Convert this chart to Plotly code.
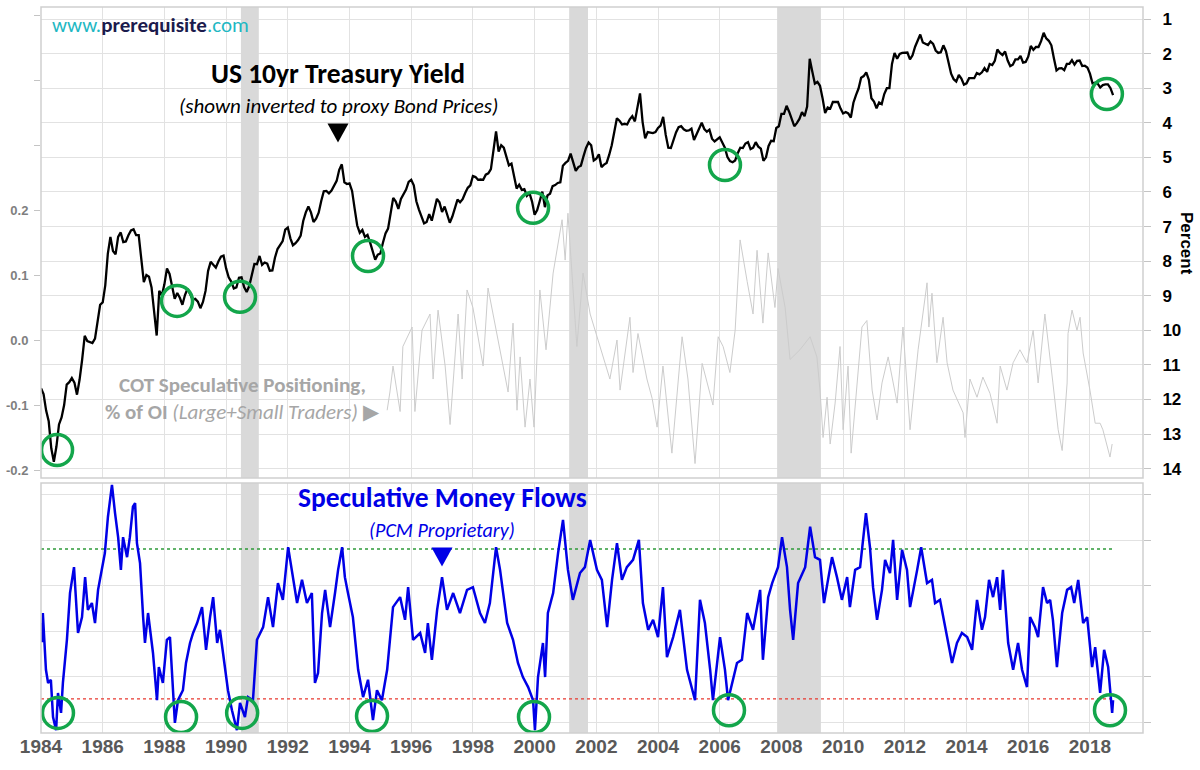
import plotly.graph_objects as go

# ---------------- DATA ----------------
# US 10yr Treasury yield, monthly, starting Jan 1984 (percent)
ust10y_start = 1984
ust10y = [
    11.67, 11.84, 12.32, 12.63, 13.41, 13.80, 13.36, 12.72, 12.52, 12.16, 11.57, 11.50,  # 1984
    11.38, 11.51, 11.86, 11.43, 10.85, 10.16, 10.31, 10.33, 10.37, 10.24, 9.78, 9.26,    # 1985
    9.19, 8.70, 7.78, 7.30, 7.71, 7.80, 7.30, 7.17, 7.45, 7.43, 7.25, 7.11,              # 1986
    7.08, 7.25, 7.25, 8.02, 8.61, 8.40, 8.45, 8.76, 9.42, 10.15, 8.86, 8.99,             # 1987
    8.67, 8.21, 8.37, 8.72, 9.09, 8.92, 9.06, 9.26, 8.98, 8.80, 8.96, 9.11,              # 1988
    9.09, 9.17, 9.36, 9.18, 8.86, 8.28, 8.02, 8.11, 8.19, 8.01, 7.87, 7.84,              # 1989
    8.21, 8.47, 8.59, 8.79, 8.76, 8.48, 8.47, 8.75, 8.89, 8.72, 8.39, 8.08,              # 1990
    8.09, 7.85, 8.11, 8.04, 8.07, 8.28, 8.27, 7.90, 7.65, 7.53, 7.42, 7.09,              # 1991
    7.03, 7.34, 7.54, 7.48, 7.39, 7.26, 6.84, 6.59, 6.42, 6.59, 6.87, 6.77,              # 1992
    6.60, 6.26, 5.98, 5.97, 6.04, 5.96, 5.81, 5.68, 5.36, 5.20, 5.72, 5.77,              # 1993
    5.75, 5.97, 6.48, 6.97, 7.18, 7.10, 7.30, 7.24, 7.46, 7.74, 7.96, 7.81,              # 1994
    7.78, 7.47, 7.20, 7.06, 6.63, 6.17, 6.28, 6.49, 6.20, 6.04, 5.93, 5.71,              # 1995
    5.65, 5.81, 6.27, 6.51, 6.74, 6.91, 6.87, 6.64, 6.83, 6.53, 6.20, 6.30,              # 1996
    6.58, 6.42, 6.69, 6.89, 6.71, 6.49, 6.22, 6.30, 6.21, 6.03, 5.88, 5.81,              # 1997
    5.54, 5.57, 5.65, 5.64, 5.65, 5.50, 5.46, 5.34, 4.81, 4.25, 4.83, 4.65,              # 1998
    4.72, 5.00, 5.23, 5.18, 5.54, 5.90, 5.79, 5.94, 5.92, 6.11, 6.03, 6.28,              # 1999
    6.66, 6.52, 6.26, 5.99, 6.44, 6.10, 6.05, 5.83, 5.80, 5.74, 5.72, 5.24,              # 2000
    5.16, 5.10, 4.89, 5.14, 5.39, 5.28, 5.24, 4.97, 4.73, 4.57, 4.65, 5.09,              # 2001
    5.04, 4.91, 5.28, 5.21, 5.16, 4.93, 4.65, 4.26, 3.87, 3.94, 4.05, 4.03,              # 2002
    4.05, 3.90, 3.81, 3.96, 3.57, 3.15, 3.98, 4.45, 4.27, 4.29, 4.30, 4.27,              # 2003
    4.15, 4.08, 3.83, 4.35, 4.72, 4.73, 4.50, 4.28, 4.13, 4.10, 4.19, 4.23,              # 2004
    4.22, 4.17, 4.50, 4.34, 4.14, 4.00, 4.18, 4.26, 4.20, 4.46, 4.54, 4.47,              # 2005
    4.42, 4.57, 4.72, 4.99, 5.11, 5.14, 5.09, 4.88, 4.72, 4.73, 4.60, 4.56,              # 2006
    4.76, 4.72, 4.56, 4.69, 4.75, 5.10, 5.00, 4.67, 4.52, 4.53, 4.15, 4.10,              # 2007
    3.74, 3.74, 3.51, 3.68, 3.88, 4.10, 4.01, 3.89, 3.69, 3.81, 3.53, 2.15,              # 2008
    2.52, 2.87, 2.82, 2.93, 3.29, 3.72, 3.56, 3.59, 3.40, 3.39, 3.40, 3.59,              # 2009
    3.73, 3.69, 3.73, 3.85, 3.42, 3.20, 3.01, 2.70, 2.65, 2.54, 2.76, 3.29,              # 2010
    3.39, 3.58, 3.41, 3.46, 3.17, 3.00, 3.00, 2.30, 1.98, 2.15, 2.01, 1.98,              # 2011
    1.97, 1.97, 2.17, 2.05, 1.80, 1.62, 1.45, 1.68, 1.72, 1.75, 1.65, 1.72,              # 2012
    1.91, 1.98, 1.96, 1.76, 1.93, 2.30, 2.58, 2.74, 2.81, 2.62, 2.72, 2.90,              # 2013
    2.86, 2.71, 2.72, 2.71, 2.56, 2.60, 2.54, 2.42, 2.53, 2.30, 2.33, 2.21,              # 2014
    1.88, 1.98, 2.04, 1.94, 2.20, 2.36, 2.32, 2.17, 2.17, 2.07, 2.26, 2.24,              # 2015
    2.09, 1.78, 1.89, 1.81, 1.81, 1.64, 1.40, 1.56, 1.63, 1.76, 2.14, 2.49,              # 2016
    2.43, 2.42, 2.48, 2.30, 2.30, 2.19, 2.32, 2.21, 2.20, 2.36, 2.35, 2.40,              # 2017
    2.58, 2.86, 2.84, 2.87, 2.98, 2.91, 2.89, 2.89, 3.00, 3.20,                          # 2018
]

# COT speculative positioning, % of open interest (left axis)
cot_years = [
    1995.22, 1995.31, 1995.41, 1995.64, 1995.73, 1996.03, 1996.12, 1996.35, 1996.61, 1996.71,
    1996.87, 1997.10, 1997.26, 1997.52, 1997.65, 1997.81, 1998.00, 1998.33, 1998.49, 1998.65,
    1998.98, 1999.14, 1999.30, 1999.43, 1999.53, 1999.69, 1999.85, 1999.98, 2000.17, 2000.37,
    2000.60, 2000.89, 2000.99, 2001.08, 2001.37, 2001.57, 2001.80, 2002.12, 2002.44, 2002.67,
    2002.77, 2003.09, 2003.19, 2003.35, 2003.64, 2003.81, 2003.97, 2004.16, 2004.45, 2004.78,
    2004.97, 2005.20, 2005.43, 2005.78, 2005.95, 2006.11, 2006.33, 2006.50, 2006.66, 2006.89,
    2007.08, 2007.21, 2007.40, 2007.57, 2007.79, 2007.89, 2008.12, 2008.28, 2008.60, 2008.93,
    2009.15, 2009.25, 2009.35, 2009.48, 2009.58, 2009.74, 2009.90, 2010.00, 2010.16, 2010.26,
    2010.39, 2010.61, 2010.77, 2010.94, 2011.10, 2011.26, 2011.46, 2011.75, 2011.94, 2012.17,
    2012.43, 2012.72, 2012.78, 2012.88, 2013.04, 2013.24, 2013.37, 2013.56, 2013.89, 2013.95,
    2014.11, 2014.34, 2014.53, 2014.76, 2014.99, 2015.09, 2015.31, 2015.51, 2015.73, 2015.96,
    2016.16, 2016.32, 2016.54, 2016.64, 2016.80, 2016.97, 2017.10, 2017.26, 2017.29, 2017.42,
    2017.58, 2017.68, 2017.78, 2018.00, 2018.17, 2018.33, 2018.42, 2018.65, 2018.72,
]
cot_values = [
    -0.108, -0.080, -0.040, -0.110, -0.010, 0.020, -0.110, 0.015, 0.040, -0.060,
    0.046, -0.040, -0.130, 0.040, -0.060, 0.077, 0.050, -0.040, 0.080, 0.040,
    -0.040, -0.080, 0.026, -0.108, -0.026, -0.134, -0.060, -0.134, 0.077, -0.015,
    0.103, 0.185, 0.123, 0.195, -0.010, 0.103, 0.040, -0.010, -0.060, 0.000,
    -0.077, 0.035, -0.050, 0.010, -0.060, -0.090, -0.134, -0.040, -0.174, 0.005,
    -0.060, -0.190, -0.036, -0.100, 0.005, -0.010, -0.050, 0.015, 0.154, 0.090,
    0.040, 0.138, 0.026, 0.134, 0.050, 0.110, 0.050, -0.030, -0.015, 0.005,
    -0.026, -0.077, -0.150, -0.088, -0.160, -0.097, -0.010, -0.138, -0.040, -0.174,
    -0.097, 0.020, 0.030, -0.077, -0.123, -0.066, -0.026, -0.097, 0.020, -0.138,
    -0.015, 0.088, 0.020, 0.072, -0.035, 0.035, -0.035, -0.077, -0.112, -0.150,
    -0.060, -0.088, -0.057, -0.082, -0.128, -0.040, -0.077, -0.035, -0.015, -0.035,
    0.015, -0.066, 0.040, -0.005, -0.066, -0.138, -0.170, -0.066, 0.010, 0.046,
    0.015, 0.035, -0.020, -0.077, -0.128, -0.128, -0.138, -0.180, -0.160,
]

# Speculative Money Flows (PCM proprietary index, arbitrary units)
flow_years = [
    1984.00, 1984.03, 1984.06, 1984.16, 1984.23, 1984.32, 1984.39, 1984.49, 1984.55, 1984.65,
    1984.71, 1984.84, 1984.94, 1985.07, 1985.20, 1985.33, 1985.43, 1985.52, 1985.65, 1985.75,
    1985.85, 1985.98, 1986.07, 1986.17, 1986.30, 1986.40, 1986.50, 1986.59, 1986.66, 1986.79,
    1986.88, 1986.98, 1987.05, 1987.11, 1987.21, 1987.31, 1987.37, 1987.47, 1987.63, 1987.76,
    1987.82, 1987.95, 1988.08, 1988.18, 1988.28, 1988.34, 1988.44, 1988.60, 1988.70, 1988.83,
    1988.93, 1989.06, 1989.22, 1989.35, 1989.48, 1989.58, 1989.71, 1989.80, 1989.90, 1990.06,
    1990.19, 1990.35, 1990.45, 1990.61, 1990.71, 1990.87, 1991.00, 1991.10, 1991.20, 1991.36,
    1991.52, 1991.68, 1991.84, 1992.01, 1992.17, 1992.30, 1992.46, 1992.62, 1992.78, 1992.88,
    1992.98, 1993.11, 1993.21, 1993.37, 1993.53, 1993.63, 1993.76, 1993.85, 1993.95, 1994.11,
    1994.28, 1994.44, 1994.60, 1994.76, 1994.89, 1995.05, 1995.22, 1995.31, 1995.41, 1995.64,
    1995.80, 1995.90, 1996.06, 1996.29, 1996.45, 1996.54, 1996.67, 1996.84, 1997.00, 1997.16,
    1997.36, 1997.58, 1997.81, 1998.00, 1998.23, 1998.39, 1998.55, 1998.75, 1998.88, 1999.11,
    1999.30, 1999.46, 1999.62, 1999.79, 1999.95, 2000.01, 2000.11, 2000.27, 2000.34, 2000.43,
    2000.60, 2000.76, 2000.92, 2001.08, 2001.24, 2001.47, 2001.63, 2001.80, 2002.02, 2002.18,
    2002.35, 2002.51, 2002.67, 2002.83, 2002.99, 2003.19, 2003.38, 2003.51, 2003.68, 2003.84,
    2004.00, 2004.16, 2004.29, 2004.49, 2004.71, 2004.94, 2005.10, 2005.20, 2005.36, 2005.52,
    2005.69, 2005.78, 2006.01, 2006.17, 2006.27, 2006.40, 2006.56, 2006.72, 2006.89, 2007.08,
    2007.31, 2007.40, 2007.57, 2007.70, 2007.89, 2008.02, 2008.18, 2008.28, 2008.38, 2008.54,
    2008.77, 2008.93, 2009.09, 2009.25, 2009.38, 2009.51, 2009.64, 2009.80, 2009.96, 2010.13,
    2010.22, 2010.39, 2010.55, 2010.74, 2010.87, 2010.97, 2011.10, 2011.26, 2011.36, 2011.52,
    2011.62, 2011.75, 2011.91, 2012.07, 2012.17, 2012.40, 2012.53, 2012.72, 2012.88, 2012.98,
    2013.14, 2013.37, 2013.53, 2013.69, 2013.85, 2014.02, 2014.18, 2014.34, 2014.50, 2014.60,
    2014.73, 2014.86, 2014.99, 2015.09, 2015.18, 2015.35, 2015.51, 2015.67, 2015.80, 2015.96,
    2016.06, 2016.22, 2016.32, 2016.48, 2016.61, 2016.71, 2016.80, 2016.93, 2017.10, 2017.26,
    2017.39, 2017.49, 2017.62, 2017.78, 2017.91, 2018.07, 2018.17, 2018.33, 2018.46, 2018.59,
    2018.72, 2018.75,
]
flow_values = [
    2.18, 1.76, 2.40, 1.15, 0.86, 0.93, 0.11, -0.18, 0.64, 0.20,
    0.86, 1.81, 2.84, 3.41, 1.96, 2.31, 3.19, 2.47, 2.62, 2.18,
    2.91, 3.41, 3.72, 4.52, 5.22, 4.60, 4.07, 3.35, 4.07, 3.63,
    4.07, 4.74, 4.82, 3.94, 3.50, 2.31, 1.74, 2.40, 1.52, 0.48,
    1.21, 0.86, 1.81, 1.87, 0.77, -0.02, 0.48, 0.70, 1.30, 1.74,
    1.96, 2.18, 2.53, 1.59, 2.31, 2.75, 1.74, 2.03, 1.52, 0.70,
    0.26, -0.18, 0.42, 0.11, 0.55, 0.48, 1.81, 1.96, 2.09, 2.75,
    2.09, 3.06, 2.69, 3.85, 3.13, 2.62, 3.13, 2.62, 2.84, 0.86,
    1.08, 2.40, 2.91, 2.09, 2.84, 3.35, 3.85, 3.19, 2.84, 2.31,
    1.15, 0.55, 0.93, 0.04, 0.70, 0.48, 1.15, 1.81, 2.53, 2.75,
    2.25, 2.97, 1.81, 1.96, 1.52, 2.18, 1.37, 2.47, 3.19, 2.47,
    2.84, 2.40, 2.91, 2.97, 2.40, 2.18, 2.62, 3.85, 3.35, 2.18,
    1.81, 1.30, 0.99, 0.77, 0.48, -0.18, 0.99, 1.74, 0.99, 2.40,
    2.84, 3.72, 4.45, 3.35, 2.69, 3.28, 3.41, 4.01, 3.35, 3.13,
    2.09, 3.13, 3.94, 3.13, 3.41, 3.57, 4.01, 2.62, 2.03, 2.25,
    1.87, 2.97, 1.43, 1.87, 2.47, 1.15, 0.70, 0.48, 2.69, 2.18,
    1.15, 0.48, 1.87, 1.15, 0.48, 0.86, 1.30, 1.37, 2.40, 2.03,
    2.91, 1.37, 2.75, 3.06, 3.41, 4.07, 3.41, 2.47, 1.81, 3.06,
    3.41, 4.30, 3.63, 3.57, 2.62, 3.13, 3.63, 3.19, 2.69, 3.19,
    2.53, 3.35, 3.41, 4.60, 3.85, 2.97, 2.25, 2.91, 3.57, 3.28,
    4.01, 2.69, 3.79, 3.35, 2.53, 3.35, 3.85, 3.06, 3.13, 2.62,
    2.69, 1.87, 1.30, 1.74, 1.96, 1.87, 1.59, 2.69, 2.03, 2.31,
    3.13, 2.75, 3.19, 2.47, 3.35, 1.74, 1.15, 1.74, 1.15, 0.77,
    2.31, 2.09, 1.87, 2.97, 2.62, 2.69, 2.25, 1.21, 2.40, 2.91,
    2.97, 2.62, 3.13, 2.18, 2.31, 1.21, 1.65, 0.64, 1.59, 1.21,
    0.20, 0.48,
]

# Flow thresholds
flow_upper = 3.81
flow_lower = 0.51
threshold_span = [1984.0, 2018.75]

# Highlighted lows (green circles)
top_circle_years = [1984.52, 1988.41, 1990.45, 1994.60, 1999.95, 2006.17, 2018.55]
top_circle_yields = [13.46, 9.15, 9.03, 7.85, 6.46, 5.22, 3.17]
bottom_circle_years = [1984.55, 1988.54, 1990.52, 1994.73, 1999.98, 2006.30, 2018.65]
bottom_circle_values = [0.20, 0.11, 0.20, 0.13, 0.11, 0.26, 0.26]

# US recessions
recession_start = [1990.48, 2001.12, 2007.86]
recession_end = [1991.06, 2001.73, 2009.28]

year_ticks = list(range(1984, 2019, 2))
yield_ticks = list(range(1, 15))
cot_ticks = [-0.2, -0.1, 0.0, 0.1, 0.2, 0.3, 0.4, 0.5]
cot_ticktext = ["-0.2", "-0.1", "0.0", "0.1", "0.2", "", "", ""]
flow_ticks = [0, 1, 2, 3, 4, 5]

# ---------------- FIGURE ----------------
ust_x = [ust10y_start + i / 12 for i in range(len(ust10y))]

X_RANGE = [1984, 2019.72]
FLOW_RANGE = [-0.242, 5.264]
COT_RANGE = [-0.2123, 0.5123]
YIELD_RANGE = [14.27, 0.653]

GREEN = "#13a64b"
BLUE = "#0000e6"
GRID = "#e2e2e2"
CAL = "Carlito, Lato, sans-serif"
ARIAL = "Liberation Sans, Arial, sans-serif"

fig = go.Figure()

# bottom panel
fig.add_trace(go.Scatter(x=threshold_span, y=[flow_upper] * 2, mode="lines",
                         line=dict(color="#2f9a3a", width=1.4, dash="dot"),
                         xaxis="x", yaxis="y", hoverinfo="skip"))
fig.add_trace(go.Scatter(x=threshold_span, y=[flow_lower] * 2, mode="lines",
                         line=dict(color="#e8392f", width=1.4, dash="dot"),
                         xaxis="x", yaxis="y", hoverinfo="skip"))
fig.add_trace(go.Scatter(x=flow_years, y=flow_values, mode="lines",
                         line=dict(color=BLUE, width=2.5), xaxis="x", yaxis="y"))
fig.add_trace(go.Scatter(x=bottom_circle_years, y=bottom_circle_values, mode="markers",
                         marker=dict(symbol="circle-open", size=31, color=GREEN,
                                     line=dict(width=3.5, color=GREEN)),
                         xaxis="x", yaxis="y"))

# top panel
fig.add_trace(go.Scatter(x=cot_years, y=cot_values, mode="lines",
                         line=dict(color="#cccccc", width=1),
                         xaxis="x2", yaxis="y2"))
fig.add_trace(go.Scatter(x=ust_x, y=ust10y, mode="lines",
                         line=dict(color="black", width=2.3),
                         xaxis="x2", yaxis="y3"))
fig.add_trace(go.Scatter(x=top_circle_years, y=top_circle_yields, mode="markers",
                         marker=dict(symbol="circle-open", size=31, color=GREEN,
                                     line=dict(width=3.5, color=GREEN)),
                         xaxis="x2", yaxis="y3"))

shapes = []
for s, e in zip(recession_start, recession_end):
    for xr, yr, rng in (("x", "y", FLOW_RANGE), ("x2", "y2", COT_RANGE)):
        shapes.append(dict(type="rect", xref=xr, yref=yr, x0=s, x1=e,
                           y0=rng[0], y1=rng[1],
                           fillcolor="#d9d9d9", line=dict(width=0), layer="between"))
# panel frames
for xr, yr in (("x domain", "y domain"), ("x2 domain", "y2 domain")):
    shapes.append(dict(type="rect", xref=xr, yref=yr, x0=0, x1=1, y0=0, y1=1,
                       line=dict(color="#cfcfcf", width=1.5), layer="above"))


def px(xp):
    return (xp - 41) / 1102


def py(yp):
    return (733 - yp) / 726


# pointer triangles
for cx, cy, col in ((338, 133, "black"), (442, 557, BLUE)):
    shapes.append(dict(type="path", xref="paper", yref="paper",
                       xsizemode="pixel", ysizemode="pixel",
                       xanchor=px(cx), yanchor=py(cy),
                       path="M -10.5 9.5 L 10.5 9.5 L 0 -9.5 Z",
                       fillcolor=col, line=dict(width=0)))

annotations = [
    dict(x=px(50), y=py(25), xanchor="left",
         text="<span style='color:#1fb8c3'>www.</span><b><span style='color:#1b1b4d'>prerequisite</span></b><span style='color:#1fb8c3'>.com</span>",
         font=dict(family=CAL, size=21)),
    dict(x=px(338), y=py(74), xanchor="center", text="<b>US 10yr Treasury Yield</b>",
         font=dict(family=CAL, size=27.5, color="black")),
    dict(x=px(338), y=py(106), xanchor="center", text="<i>(shown inverted to proxy Bond Prices)</i>",
         font=dict(family=CAL, size=21, color="black")),
    dict(x=px(368), y=py(385), xanchor="right", text="<b>COT Speculative Positioning,</b>",
         font=dict(family=CAL, size=21, color="#a6a6a6")),
    dict(x=px(382), y=py(412), xanchor="right",
         text="<b>% of OI</b> <i>(Large+Small Traders)</i> ▶",
         font=dict(family=CAL, size=21, color="#a6a6a6")),
    dict(x=px(442), y=py(497), xanchor="center", text="<b>Speculative Money Flows</b>",
         font=dict(family=CAL, size=27.5, color=BLUE)),
    dict(x=px(442), y=py(530), xanchor="center", text="<i>(PCM Proprietary)</i>",
         font=dict(family=CAL, size=20, color=BLUE)),
    dict(x=px(1186), y=py(243), xanchor="center",
         text="<b>Percent</b>", textangle=90,
         font=dict(family=ARIAL, size=17, color="black")),
]
for a in annotations:
    a.update(xref="paper", yref="paper", yanchor="middle", showarrow=False)

fig.update_layout(
    width=1200, height=770,
    margin=dict(l=41, r=57, t=7, b=37, autoexpand=False),
    plot_bgcolor="white", paper_bgcolor="white",
    showlegend=False,
    xaxis=dict(domain=[0, 1], anchor="y", range=X_RANGE, tickvals=year_ticks,
               showgrid=True, gridcolor=GRID, zeroline=False, ticks="",
               tickfont=dict(family=ARIAL, size=19, color="#595959", weight="bold")),
    xaxis2=dict(domain=[0, 1], anchor="y2", matches="x", tickvals=year_ticks,
                showticklabels=False, showgrid=True, gridcolor=GRID, zeroline=False),
    yaxis=dict(domain=[0, 0.3444], anchor="x", side="right", range=FLOW_RANGE,
               tickvals=flow_ticks, showticklabels=False, ticks="outside", ticklen=7,
               tickcolor="#c4c4c4", showgrid=True, gridcolor=GRID, zeroline=False),
    yaxis2=dict(domain=[0.3512, 1], anchor="x2", side="left", range=COT_RANGE,
                tickvals=cot_ticks, ticktext=cot_ticktext, ticks="outside", ticklen=6,
                tickcolor="#c4c4c4", showgrid=False, zeroline=False, ticklabelstandoff=3,
                tickfont=dict(family=ARIAL, size=13, color="#7f7f7f", weight="bold")),
    yaxis3=dict(overlaying="y2", anchor="x2", side="right", range=YIELD_RANGE,
                tickvals=yield_ticks, ticks="outside", ticklen=7, tickcolor="#c4c4c4",
                showgrid=True, gridcolor=GRID, zeroline=False, ticklabelstandoff=8,
                tickfont=dict(family=ARIAL, size=17, color="black", weight="bold")),
    shapes=shapes,
    annotations=annotations,
)

fig.write_html("out.html", config={"displayModeBar": False},
               post_script="document.body.style.margin='0px';")
